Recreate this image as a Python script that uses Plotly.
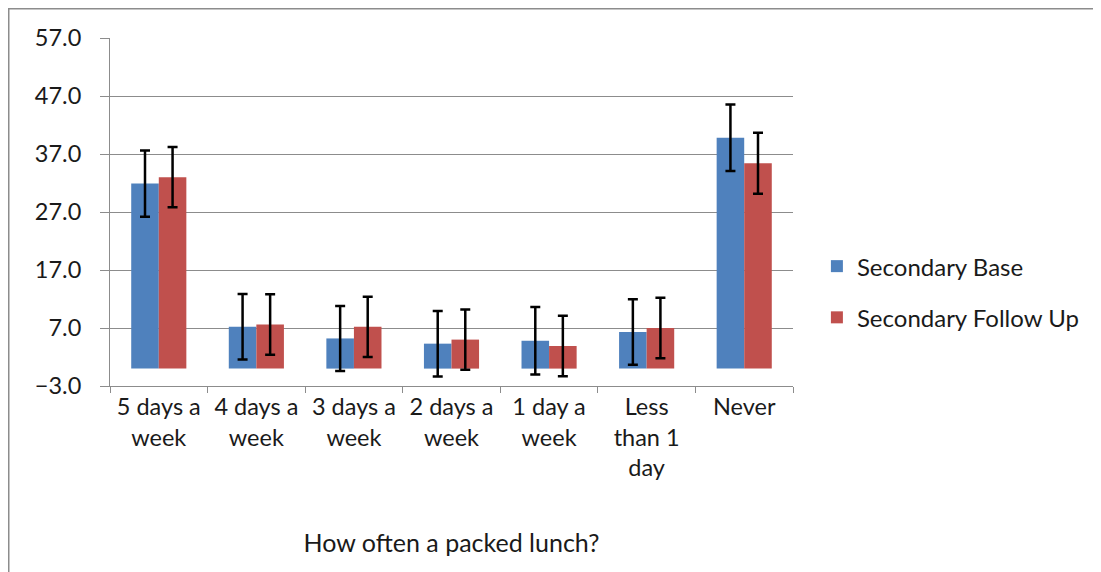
import plotly.graph_objects as go

categories = ["5 days a<br>week", "4 days a<br>week", "3 days a<br>week", "2 days a<br>week",
              "1 day a<br>week", "Less<br>than 1<br>day", "Never"]
base_values = [31.9, 7.2, 5.2, 4.3, 4.8, 6.3, 39.8]
base_err = [5.7, 5.65, 5.6, 5.65, 5.8, 5.65, 5.75]
follow_values = [33.0, 7.6, 7.2, 5.0, 3.9, 7.0, 35.4]
follow_err = [5.2, 5.2, 5.2, 5.2, 5.2, 5.2, 5.25]
y_ticks = [-3, 7, 17, 27, 37, 47, 57]

FONT = "Lato"
FS = 25
TXT = "#1a1a1a"

# page has an 8px body margin; figure coords = screen coords - 8
L, T = 102, 30
R_EDGE, B_EDGE = 785, 377.7
PW, PH = R_EDGE - L, B_EDGE - T

fig = go.Figure()
fig.add_trace(go.Bar(
    x=categories, y=base_values, name="Secondary Base", legendgroup="a",
    marker=dict(color="#4F81BD", line=dict(width=0)),
    error_y=dict(type="data", array=base_err, color="black", thickness=2.5, width=5),
))
fig.add_trace(go.Bar(
    x=categories, y=follow_values, name="Secondary Follow Up", legendgroup="b",
    marker=dict(color="#C0504D", line=dict(width=0)),
    error_y=dict(type="data", array=follow_err, color="black", thickness=2.5, width=5),
))

fig.update_layout(
    width=1101, height=572,
    margin=dict(l=L, r=1101 - R_EDGE, t=T, b=572 - B_EDGE),
    paper_bgcolor="white", plot_bgcolor="white",
    barmode="group", bargap=0.435, bargroupgap=0,
    font=dict(family=FONT, size=FS, color=TXT),
    showlegend=True,
    legend=dict(x=1.035, y=0.27, xanchor="left", yanchor="middle",
                traceorder="grouped", tracegroupgap=17,
                font=dict(family=FONT, size=24, color=TXT)),
    xaxis=dict(
        showline=True, linecolor="#8c8c8c", linewidth=1,
        ticks="outside", tickson="boundaries", ticklen=6, tickcolor="#8c8c8c",
        tickangle=0, tickfont=dict(family=FONT, size=23.5, color=TXT),
        showgrid=False,
        title=dict(text="How often a packed lunch?", standoff=54,
                   font=dict(family=FONT, size=FS, color=TXT)),
    ),
    yaxis=dict(
        range=[-3, 57], tickvals=y_ticks, tickformat=".1f",
        tickfont=dict(family=FONT, size=23.5, color=TXT),
        showline=True, linecolor="#8c8c8c", linewidth=1,
        ticks="outside", ticklen=9, tickcolor="#8c8c8c",
        ticklabelstandoff=14,
        showgrid=True, gridcolor="#8c8c8c", gridwidth=1,
        zeroline=False,
    ),
    shapes=[
        dict(type="line", xref="paper", yref="paper",
             x0=(0 - L) / PW, x1=(1101 - L) / PW,
             y0=(B_EDGE - 0.5) / PH, y1=(B_EDGE - 0.5) / PH,
             line=dict(color="#8c8c8c", width=2)),
        dict(type="line", xref="paper", yref="paper",
             x0=(0.5 - L) / PW, x1=(0.5 - L) / PW,
             y0=(B_EDGE - 0) / PH, y1=(B_EDGE - 575) / PH,
             line=dict(color="#8c8c8c", width=2)),
    ],
)

fig.write_html("out.html")
